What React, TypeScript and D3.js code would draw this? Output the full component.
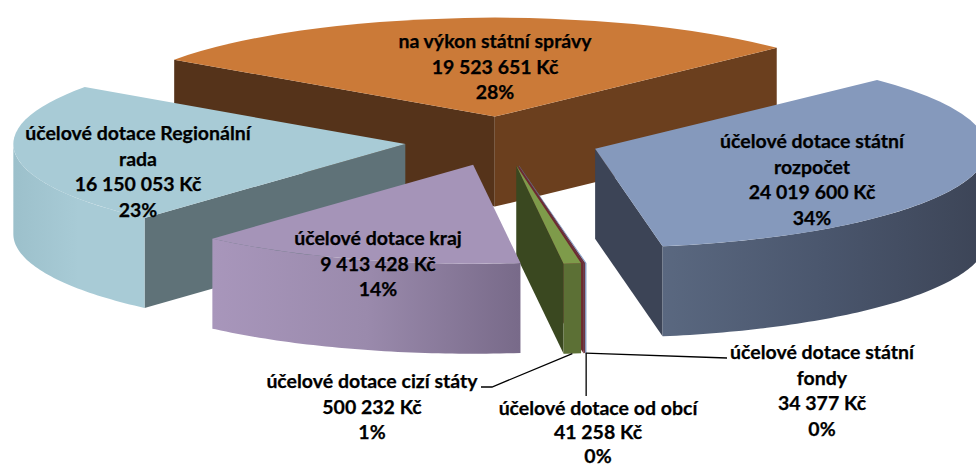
import React, { useEffect, useRef } from "react";
import * as d3 from "d3";

// clockwise from the blue slice, same order as the pie
const categories = [
    ["účelové dotace státní", "rozpočet"],
    ["účelové dotace státní", "fondy"],
    ["účelové dotace od obcí"],
    ["účelové dotace cizí státy"],
    ["účelové dotace kraj"],
    ["účelové dotace Regionální", "rada"],
    ["na výkon státní správy"],
];
const values = [24019600, 34377, 41258, 500232, 9413428, 16150053, 19523651];

const topColors = ["#8599bc", "#7f97c0", "#6d2a30", "#7e9b4a", "#a594b8", "#a8cbd6", "#cb7a38"];
const startCutColors = ["#3c4456", "#3c4456", "#4a2024", "#3a4820", "#6d6080", "#5f7278", "#55331a"];
const endCutColors = ["#3c4456", "#5f7ba8", "#6d2a30", "#3a4820", "#6d6080", "#5f7278", "#6b3f1e"];
const wallStops = [
    ["#5a6880", "#4a566d", "#3c4456"],
    ["#6f8ab5", "#6f8ab5", "#6f8ab5"],
    ["#6d2a30", "#6d2a30", "#6d2a30"],
    ["#5c7035", "#5c7035", "#5c7035"],
    ["#a896bb", "#9a8aac", "#786a89"],
    ["#9cc0cb", "#a8cbd6", "#a8cbd6"],
    ["#6b3f1e", "#6b3f1e", "#6b3f1e"],
];
// back to front
const drawOrder = [6, 5, 0, 1, 2, 3, 4];

// label centre x, first baseline and line gap
const labelX = [812, 822, 598, 372, 378, 138, 495];
const labelY = [148, 359, 415, 388, 245, 140, 48];
const labelGap = [25.6, 25.6, 24, 25.6, 25.6, 25.6, 25.6];

const width = 976;
const height = 468;
const cx = 502.3;
const cy = 141.2;
const rx = 392;
const ry = 99;
const depth = 90;
const explode = 0.249;

const rad = (deg: number) => (deg * Math.PI) / 180;
const money = d3.formatLocale({ decimal: ",", thousands: " ", grouping: [3], currency: ["", " Kč"] }).format("$,");
const percent = d3.format(".0%");

function App() {
    const ref = useRef<SVGSVGElement>(null);

    useEffect(() => {
        drawChart();
    }, []);

    const drawChart = () => {
        const svg = d3.select(ref.current);
        svg.selectAll("*").remove();

        const total = d3.sum(values);
        const arcs = d3.pie<number>().sort(null).startAngle(rad(46)).endAngle(rad(406))(values);
        const arcPath = d3.arc<any>().innerRadius(0).outerRadius(rx);
        const line = d3.line();
        const defs = svg.append("defs");

        const apexOf = (i: number) => {
            const mid = (arcs[i].startAngle + arcs[i].endAngle) / 2;
            return [cx + Math.sin(mid) * explode * rx, cy - Math.cos(mid) * explode * ry];
        };
        const rim = (apex: number[], a: number, drop = 0): [number, number] => [
            apex[0] + Math.sin(a) * rx,
            apex[1] - Math.cos(a) * ry + drop,
        ];

        // Draw slices
        drawOrder.forEach(i => {
            const d = arcs[i];
            const apex = apexOf(i);
            const g = svg.append("g");

            // cut faces, only those turned towards the viewer
            const cut = (a: number, color: string) => {
                const p = rim(apex, a);
                g.append("path")
                    .attr("d", line([[apex[0], apex[1]], p, [p[0], p[1] + depth], [apex[0], apex[1] + depth]]) + "Z")
                    .attr("fill", color);
            };
            if (Math.sin(d.startAngle) < 0) cut(d.startAngle, startCutColors[i]);
            if (Math.sin(d.endAngle) > 0) cut(d.endAngle, endCutColors[i]);

            // outer wall, front half only
            const from = Math.max(d.startAngle, Math.PI / 2);
            const to = Math.min(d.endAngle, Math.PI * 1.5);
            if (to > from) {
                const grad = defs.append("linearGradient").attr("id", `wall${i}`);
                wallStops[i].forEach((c, k) => {
                    grad.append("stop").attr("offset", k / 2).attr("stop-color", c);
                });
                const angles = d3.range(from, to, rad(1)).concat(to);
                const upper = angles.map(a => rim(apex, a));
                const lower = angles.slice().reverse().map(a => rim(apex, a, depth));
                g.append("path")
                    .attr("d", line(upper.concat(lower)) + "Z")
                    .attr("fill", `url(#wall${i})`);
            }

            // top face is the plain d3 arc squashed into the ellipse
            g.append("path")
                .attr("d", arcPath(d))
                .attr("transform", `translate(${apex[0]},${apex[1]}) scale(1,${ry / rx})`)
                .attr("fill", topColors[i]);
        });

        // Leader lines for the three thin slices
        const foot = (i: number) => rim(apexOf(i), (arcs[i].startAngle + arcs[i].endAngle) / 2, depth);
        const leaders: [number, number][][] = [
            [foot(3), [492, 387], [481, 387]],
            [[foot(2)[0] + 2, foot(2)[1]], [foot(2)[0] + 2, 396]],
            [[foot(1)[0], foot(1)[1]], [727, 358]],
        ];
        svg.selectAll("path.leader")
            .data(leaders)
            .enter()
            .append("path")
            .attr("class", "leader")
            .attr("d", p => line(p))
            .attr("fill", "none")
            .attr("stroke", "#000")
            .attr("stroke-width", 1.3);

        // Draw labels
        categories.forEach((names, i) => {
            const lines = names.concat(money(values[i]), percent(values[i] / total));
            const text = svg.append("text")
                .attr("text-anchor", "middle")
                .attr("font-family", "Lato, 'Open Sans', sans-serif")
                .attr("font-weight", 700)
                .attr("font-size", 19.5)
                .attr("fill", "#000")
                .attr("stroke", "#000")
                .attr("stroke-width", 0.25);
            lines.forEach((t, k) => {
                text.append("tspan")
                    .attr("x", labelX[i])
                    .attr("y", labelY[i] + k * labelGap[i])
                    .text(t);
            });
        });
    };

    return (
        <svg
            ref={ref}
            width={width}
            height={height}
            style={{ position: "absolute", left: 0, top: 0, display: "block", background: "#fff" }}
        />
    );
}

export default App;
